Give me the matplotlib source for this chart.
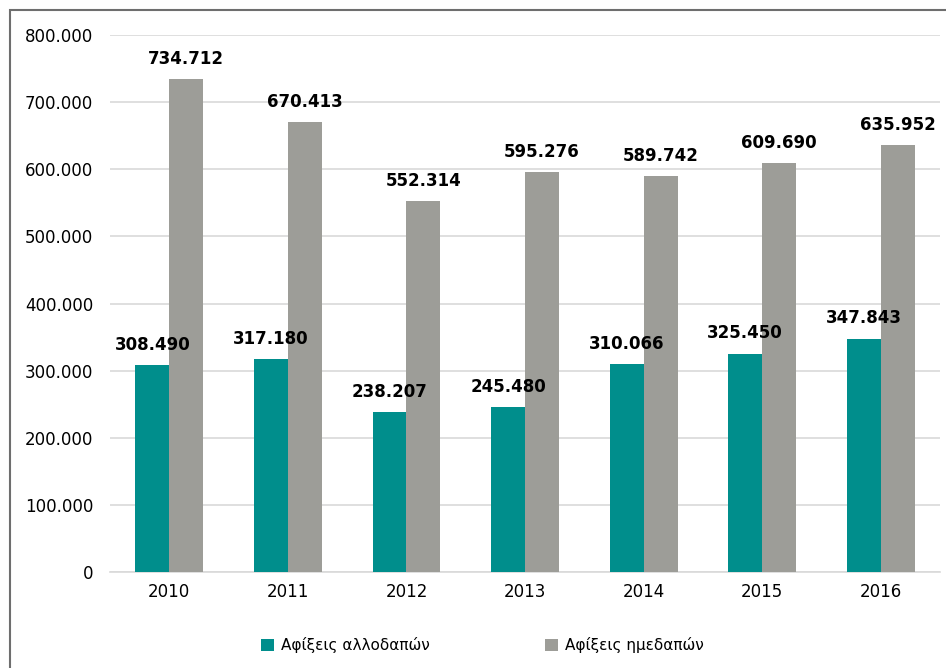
import numpy as np
import matplotlib
matplotlib.use("Agg")
from matplotlib import pyplot as plt
from matplotlib.patches import Rectangle

years = ["2010", "2011", "2012", "2013", "2014", "2015", "2016"]
foreign = [308490, 317180, 238207, 245480, 310066, 325450, 347843]
domestic = [734712, 670413, 552314, 595276, 589742, 609690, 635952]
series_names = ["Αφίξεις αλλοδαπών", "Αφίξεις ημεδαπών"]

plt.rcParams['font.family'] = ['DejaVu Sans']


def fmt(v):
    # thousands separated by dots
    return "{:,}".format(int(v)).replace(",", ".")


fig = plt.figure(figsize=(9.46, 6.68), dpi=100)
ax = fig.add_axes([0.1163, 0.1437, 0.8774, 0.8039])

x = np.arange(len(years))
w = 0.286
b1 = ax.bar(x - w / 2, foreign, w, color="#008E8C", label=series_names[0], zorder=3)
b2 = ax.bar(x + w / 2, domestic, w, color="#9D9D98", label=series_names[1], zorder=3)

for bars, vals in ((b1, foreign), (b2, domestic)):
    for r, v in zip(bars, vals):
        ax.annotate(fmt(v), (r.get_x() + r.get_width() / 2, v),
                    xytext=(0, 8), textcoords="offset points",
                    ha="center", va="bottom", fontsize=12,
                    fontweight="bold", color="black", zorder=4)

ax.set_xlim(-0.5, len(years) - 0.5)
ax.set_ylim(0, 800000)
ax.set_yticks(np.arange(0, 800001, 100000))
ax.set_yticklabels([fmt(t) for t in np.arange(0, 800001, 100000)], fontsize=12)
ax.set_xticks(x)
ax.set_xticklabels(years, fontsize=12)
ax.tick_params(length=0, pad=8)
ax.tick_params(axis="y", pad=12)
ax.yaxis.grid(True, color="#D9D9D9", lw=1.2, zorder=0)
for s in ["top", "right", "left"]:
    ax.spines[s].set_visible(False)
ax.spines["bottom"].set_color("#D9D9D9")
ax.spines["bottom"].set_linewidth(1.2)

fig.legend(loc="center", bbox_to_anchor=(0.51, 0.034), ncol=2, frameon=False,
           fontsize=11, handlelength=0.85, handleheight=0.85,
           handletextpad=0.5, columnspacing=7.5)

# outer frame
fig.patches.append(Rectangle((10 / 946, -0.1), 1.0, 1 - 10 / 668 + 0.1,
                             transform=fig.transFigure, fill=False,
                             edgecolor="#6E6E6E", lw=1.5))

fig.savefig("out.png", dpi=100)
